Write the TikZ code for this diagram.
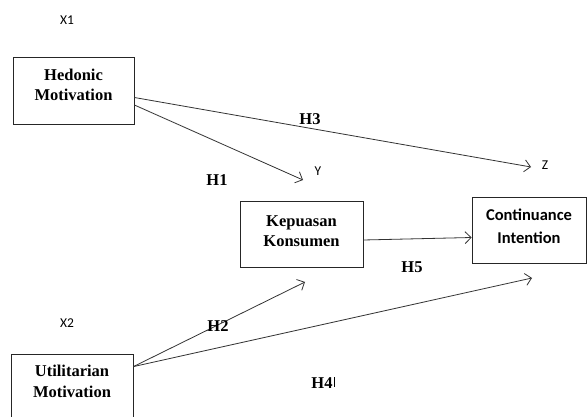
\documentclass[tikz,border=0pt]{standalone}
\usepackage{fontspec}
\setmainfont{Liberation Serif}
\newfontfamily\calib{Carlito}
\usetikzlibrary{arrows.meta}
\tikzset{
  varbox/.style={draw=black!85, line width=0.8pt, rectangle, inner sep=0pt},
  boxtext/.style={inner sep=0pt, align=center, font=\fontsize{16.5}{20.5}\selectfont\bfseries},
  lbl/.style={font=\fontsize{16.5}{19}\selectfont\bfseries, inner sep=0pt},
  tag/.style={font=\calib\fontsize{13.5}{16}\selectfont, inner sep=0pt},
  path/.style={draw=black!80, line width=0.8pt, -{Straight Barb[length=6pt,width=12pt]}}
}
\begin{document}
\begin{tikzpicture}[x=1pt,y=-1pt]
\useasboundingbox[fill=white] (0,0) rectangle (587,417);
% boxes
\node[varbox, minimum width=121pt, minimum height=67pt] (hed) at (73.5,90.5) {};
\node[boxtext] (hedt) at (73.5,85) {Hedonic\\Motivation};
\node[varbox, minimum width=123pt, minimum height=66pt] (kep) at (301.5,234) {};
\node[boxtext] (kept) at (301.5,231) {Kepuasan\\Konsumen};
\node[varbox, minimum width=114pt, minimum height=66pt] (con) at (529,230) {};
\node[boxtext, font=\calib\fontsize{16.5}{23}\selectfont\bfseries] (cont) at (529,226) {Continuance\\Intention};
\node[varbox, minimum width=122pt, minimum height=70pt] (uti) at (72,389) {};
\node[boxtext] (utit) at (72,381.5) {Utilitarian\\Motivation};
% free ends
\coordinate (yend) at (303,180);
\coordinate (zend) at (531,167);
\coordinate (kepin) at (305,282);
\coordinate (conin) at (532,278);
% connectors
\draw[path] (hed.east) ++(0,14.5) -- (yend);
\draw[path] (hed.east) ++(0,7) -- (zend);
\draw[path] (kep.east) ++(0,6) -- ([yshift=-7.5pt]con.west);
\draw[path] (uti.north east) ++(0,13) -- (kepin);
\draw[path] (uti.north east) ++(0,13) -- (conin);
% labels
\node[tag] (x1) at (67,20) {X1};
\node[tag] (y) at (318,171) {Y};
\node[tag] (z) at (545,165) {Z};
\node[tag] (x2) at (67,323) {X2};
\node[lbl] (h1) at (217,180) {H1};
\node[lbl] (h3) at (310,119) {H3};
\node[lbl] (h5) at (412,267) {H5};
\node[lbl] (h2) at (218,326) {H2};
\node[lbl] (h4) at (322,383) {H4};
\draw[black, line width=0.6pt] ([xshift=1.5pt]h4.north east) -- ([xshift=1.5pt,yshift=2pt]h4.south east);
\end{tikzpicture}
\end{document}
